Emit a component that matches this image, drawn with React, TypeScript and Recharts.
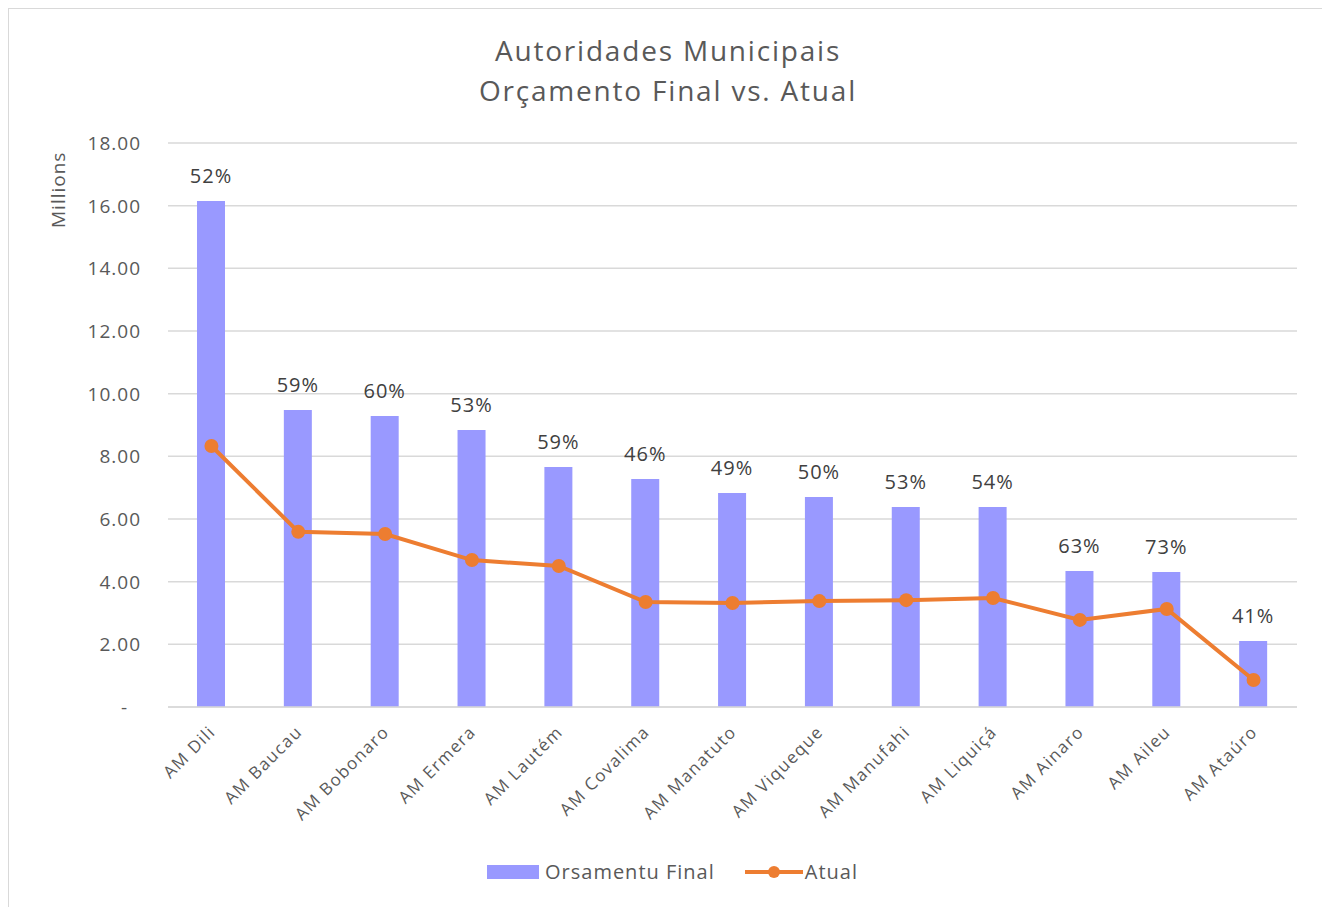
import { Bar, CartesianGrid, ComposedChart, LabelList, Legend, Line, XAxis, YAxis } from "recharts"

const municipios = [
  "AM Dili",
  "AM Baucau",
  "AM Bobonaro",
  "AM Ermera",
  "AM Lautém",
  "AM Covalima",
  "AM Manatuto",
  "AM Viqueque",
  "AM Manufahi",
  "AM Liquiçá",
  "AM Ainaro",
  "AM Aileu",
  "AM Ataúro",
]

// millions
const orcamentoFinal = [16.15, 9.48, 9.29, 8.84, 7.66, 7.28, 6.83, 6.7, 6.38, 6.38, 4.34, 4.31, 2.11]
const atual = [8.33, 5.59, 5.52, 4.69, 4.5, 3.35, 3.32, 3.38, 3.41, 3.48, 2.78, 3.13, 0.86]
const execucao = [52, 59, 60, 53, 59, 46, 49, 50, 53, 54, 63, 73, 41]

const yTicks = [0, 2, 4, 6, 8, 10, 12, 14, 16, 18]

const data = municipios.map((name, i) => ({
  name,
  final: orcamentoFinal[i],
  atual: atual[i],
  pct: execucao[i],
}))

const FONT = "'Open Sans', sans-serif"
const TEXT = "#595959"
const BAR = "#9999FF"
const LINE = "#ED7D31"

function YTick(props: any) {
  const { x, y, payload } = props
  const v = payload.value
  return (
    <text
      x={v === 0 ? x - 13 : x}
      y={y}
      dy={7}
      textAnchor="end"
      fill={TEXT}
      fontSize={19}
      letterSpacing={1}
      fontFamily={FONT}
    >
      {v === 0 ? "-" : v.toFixed(2)}
    </text>
  )
}

function XTick(props: any) {
  const { x, y, payload } = props
  const ax = x + 5
  const ay = y + 18
  return (
    <text
      x={ax}
      y={ay}
      textAnchor="end"
      fill={TEXT}
      fontSize={17}
      letterSpacing={1.4}
      fontFamily={FONT}
      transform={`rotate(-45, ${ax}, ${ay})`}
    >
      {payload.value}
    </text>
  )
}

function LegendBox() {
  return (
    <div
      style={{
        display: "flex",
        justifyContent: "center",
        alignItems: "center",
        fontFamily: FONT,
        fontSize: 20,
        letterSpacing: 1,
        color: TEXT,
        paddingTop: 21,
        marginLeft: -60,
      }}
    >
      <span style={{ display: "inline-block", width: 52, height: 14, background: BAR, marginRight: 6 }} />
      <span>Orsamentu Final</span>
      <svg width={58} height={16} style={{ marginLeft: 30, marginRight: 2 }}>
        <line x1={0} y1={8} x2={58} y2={8} stroke={LINE} strokeWidth={4} />
        <circle cx={29} cy={8} r={6} fill={LINE} />
      </svg>
      <span>Atual</span>
    </div>
  )
}

export default function App() {
  return (
    <div
      style={{
        position: "relative",
        width: 1318,
        height: 900,
        border: "1px solid #d9d9d9",
        background: "#fff",
      }}
    >
      <div
        style={{
          position: "absolute",
          top: 21,
          left: 0,
          width: "100%",
          textAlign: "center",
          fontFamily: FONT,
          fontSize: 28,
          letterSpacing: 1.8,
          lineHeight: "40px",
          color: TEXT,
        }}
      >
        Autoridades Municipais
        <br />
        Orçamento Final vs. Atual
      </div>
      <div
        style={{
          position: "absolute",
          left: 36,
          top: 219,
          transform: "rotate(-90deg)",
          transformOrigin: "left top",
          fontFamily: FONT,
          fontSize: 19,
          letterSpacing: 1,
          lineHeight: "26px",
          color: TEXT,
          whiteSpace: "nowrap",
        }}
      >
        Millions
      </div>
      <ComposedChart
        width={1318}
        height={900}
        data={data}
        margin={{ top: 134, right: 30, bottom: 10, left: 99 }}
      >
        <CartesianGrid vertical={false} stroke="#d9d9d9" strokeWidth={1.5} />
        <XAxis
          dataKey="name"
          interval={0}
          tick={<XTick />}
          tickLine={false}
          axisLine={{ stroke: "#d9d9d9", strokeWidth: 1.5 }}
          height={130}
        />
        <YAxis
          width={60}
          domain={[0, 18]}
          ticks={yTicks}
          tick={<YTick />}
          tickLine={false}
          axisLine={false}
          tickSize={0}
          tickMargin={27}
        />
        <Bar dataKey="final" fill={BAR} isAnimationActive={false} barSize={28}>
          <LabelList
            dataKey="pct"
            position="top"
            offset={18}
            formatter={(v: any) => `${v}%`}
            style={{ fill: "#404040", fontSize: 20, letterSpacing: 1, fontFamily: FONT }}
          />
        </Bar>
        <Line
          dataKey="atual"
          stroke={LINE}
          strokeWidth={4}
          dot={{ r: 7, fill: LINE, stroke: "none" }}
          activeDot={false}
          isAnimationActive={false}
        />
        <Legend verticalAlign="bottom" height={62} content={<LegendBox />} />
      </ComposedChart>
    </div>
  )
}
